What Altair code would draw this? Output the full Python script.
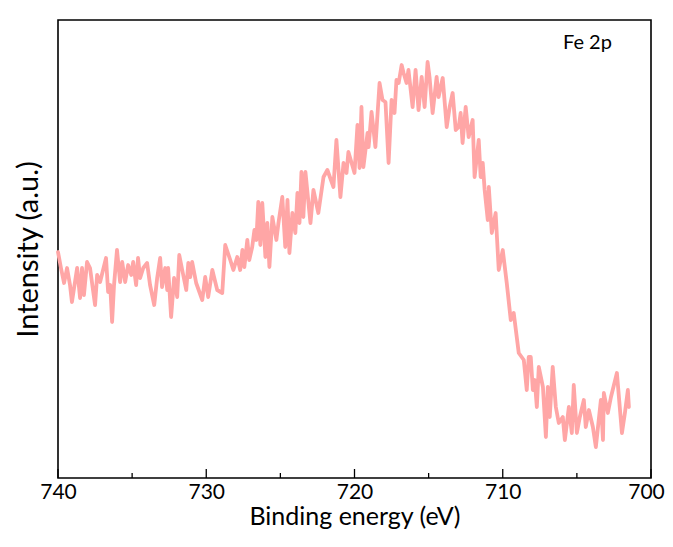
import altair as alt
import pandas as pd

# Binding energy (eV) and intensity (a.u.)
energy = [
    740.0, 739.8, 739.59, 739.39, 739.19, 739.06, 738.71, 738.51, 738.38, 738.25,
    738.04, 737.84, 737.5, 737.36, 737.16, 736.76, 736.62, 736.48, 736.35, 736.22,
    736.02, 735.81, 735.67, 735.47, 735.27, 735.06, 734.93, 734.73, 734.6, 734.46,
    734.25, 733.99, 733.79, 733.51, 733.31, 733.11, 732.98, 732.77, 732.63, 732.57,
    732.37, 732.17, 731.96, 731.82, 731.62, 731.35, 731.21, 731.08, 730.95, 730.68,
    730.27, 730.07, 729.87, 729.59, 729.26, 728.92, 728.72, 728.38, 728.17, 727.91,
    727.71, 727.56, 727.43, 727.23, 727.1, 726.9, 726.75, 726.62, 726.49, 726.35,
    726.22, 726.01, 725.88, 725.74, 725.54, 725.27, 725.13, 724.87, 724.67, 724.52,
    724.39, 724.19, 723.99, 723.85, 723.71, 723.58, 723.45, 723.31, 722.97, 722.77,
    722.44, 722.09, 721.83, 721.42, 721.22, 720.95, 720.74, 720.54, 720.41, 720.0,
    719.8, 719.66, 719.53, 719.4, 719.12, 719.05, 718.85, 718.59, 718.31, 718.11,
    717.91, 717.7, 717.5, 717.3, 717.17, 717.02, 716.82, 716.69, 716.49, 716.36,
    716.08, 715.88, 715.68, 715.47, 715.27, 715.07, 714.94, 714.73, 714.46, 714.33,
    714.05, 713.78, 713.58, 713.38, 713.17, 712.97, 712.84, 712.71, 712.5, 712.3,
    712.03, 711.9, 711.62, 711.49, 711.35, 711.22, 711.01, 710.94, 710.74, 710.48,
    710.27, 710.0, 709.73, 709.46, 709.26, 708.92, 708.58, 708.38, 708.25, 708.11,
    707.97, 707.84, 707.7, 707.57, 707.29, 707.09, 706.96, 706.83, 706.63, 706.42,
    706.22, 705.95, 705.81, 705.54, 705.34, 705.21, 705.0, 704.8, 704.53, 704.4,
    704.19, 703.92, 703.72, 703.38, 703.24, 703.18, 702.91, 702.7, 702.3, 701.96,
    701.76, 701.56, 701.49,
]
intensity = [
    226, 210, 195, 210, 193, 176, 210, 180, 210, 183,
    216, 210, 173, 203, 196, 220, 186, 193, 156, 193,
    228, 196, 216, 196, 213, 203, 216, 193, 220, 200,
    210, 215, 193, 173, 200, 220, 191, 210, 188, 210,
    161, 200, 181, 223, 208, 188, 215, 201, 216, 195,
    178, 201, 181, 208, 188, 185, 233, 218, 208, 221,
    208, 228, 211, 238, 218, 231, 248, 238, 276, 233,
    275, 221, 255, 211, 261, 238, 255, 281, 231, 278,
    225, 265, 245, 285, 255, 306, 261, 306, 255, 288,
    265, 301, 308, 291, 338, 281, 315, 305, 326, 305,
    353, 310, 371, 311, 345, 331, 366, 331, 395, 378,
    376, 315, 378, 365, 398, 395, 413, 405, 395, 408,
    371, 408, 368, 401, 371, 416, 401, 365, 401, 381,
    400, 351, 371, 385, 348, 351, 365, 335, 371, 341,
    358, 301, 338, 301, 315, 288, 258, 291, 245, 265,
    208, 228, 195, 158, 165, 125, 118, 88, 121, 121,
    88, 98, 71, 111, 91, 41, 91, 61, 111, 71,
    55, 61, 38, 71, 45, 93, 45, 61, 78, 51,
    68, 51, 31, 78, 38, 85, 65, 81, 105, 45,
    65, 88, 71,
]

major_ticks = [740, 730, 720, 710, 700]
minor_ticks = [735, 725, 715, 705]
label_text = "Fe 2p"

df = pd.DataFrame({"energy": energy, "intensity": intensity})
major_df = pd.DataFrame({"energy": major_ticks})
minor_df = pd.DataFrame({"energy": minor_ticks})

FONT = "Lato"
W, H = 593, 458

xscale = alt.Scale(domain=[700, 740], reverse=True, nice=False, zero=False)
yscale = alt.Scale(domain=[0, 458], nice=False, zero=False)

line = alt.Chart(df).mark_line(
    color="#FFA6A6", strokeWidth=3.8, strokeJoin="round", strokeCap="round"
).encode(
    x=alt.X(
        "energy:Q",
        scale=xscale,
        axis=alt.Axis(
            values=major_ticks,
            format="d",
            ticks=False,
            domain=False,
            grid=False,
            labelFont=FONT,
            labelFontSize=21,
            labelColor="black",
            labelPadding=3,
            labelFlush=False,
            labelOffset={"expr": "datum.value == 700 ? -5 : 0"},
            title="Binding energy (eV)",
            titleFont=FONT,
            titleFontSize=25,
            titleFontWeight="normal",
            titleColor="black",
            titlePadding=2,
        ),
    ),
    y=alt.Y(
        "intensity:Q",
        scale=yscale,
        axis=alt.Axis(
            labels=False,
            ticks=False,
            domain=False,
            grid=False,
            title="Intensity (a.u.)",
            titleFont=FONT,
            titleFontSize=29,
            titleFontWeight="normal",
            titleColor="black",
            titlePadding=15,
        ),
    ),
)

major = alt.Chart(major_df).mark_rule(color="black", strokeWidth=1.3).encode(
    x=alt.X("energy:Q", scale=xscale),
    y=alt.value(H),
    y2=alt.value(H - 9),
)
minor = alt.Chart(minor_df).mark_rule(color="black", strokeWidth=1.3).encode(
    x=alt.X("energy:Q", scale=xscale),
    y=alt.value(H),
    y2=alt.value(H - 5),
)

label = alt.Chart(pd.DataFrame({"t": [label_text]})).mark_text(
    font=FONT, fontSize=20, color="black", align="left", baseline="middle"
).encode(
    text="t:N",
    x=alt.value(505),
    y=alt.value(23),
)

chart = alt.layer(line, major, minor, label).properties(
    width=W,
    height=H,
    background="white",
    autosize=alt.AutoSizeParams(type="none"),
    padding={"left": 50, "top": 12, "right": 14, "bottom": 56},
).configure_view(
    stroke="#000000", strokeWidth=1.6
)

chart.save("out.html", embed_options={"renderer": "svg", "actions": False})
